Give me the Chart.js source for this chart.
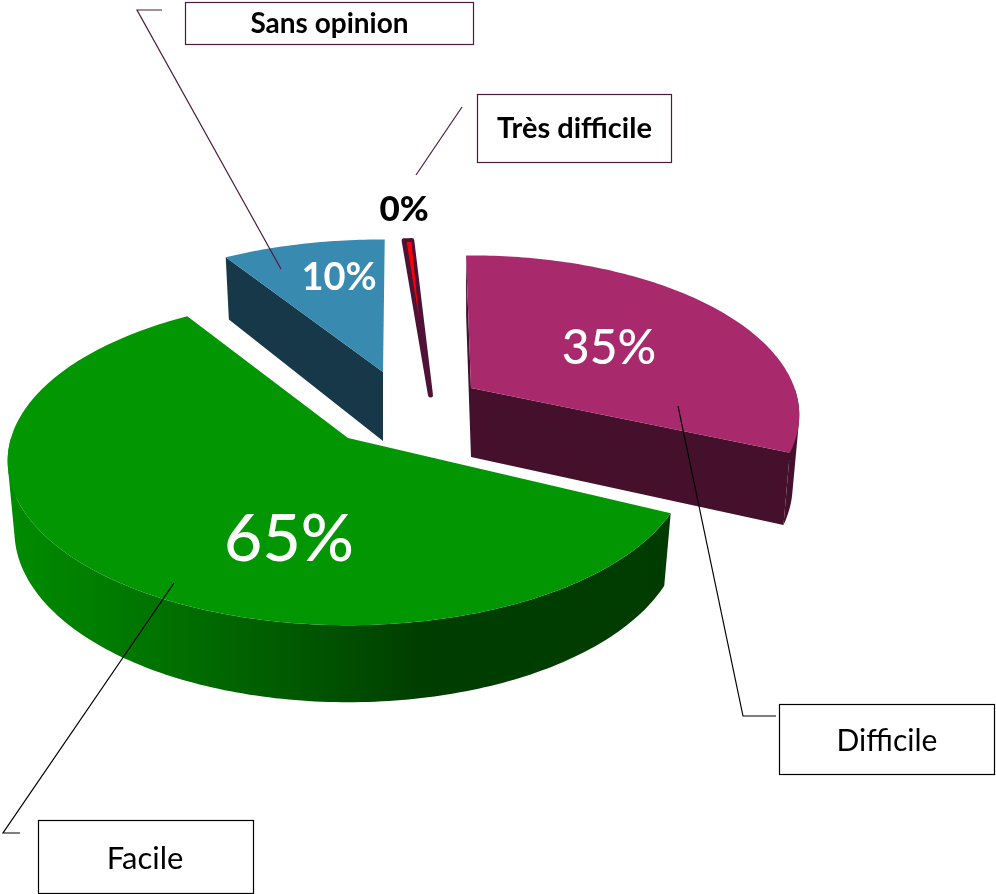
<!DOCTYPE html>
<html>
<head>
<meta charset="utf-8">
<script src="https://cdn.jsdelivr.net/npm/chart.js@4"></script>
<style>html,body{margin:0;padding:0;background:#fff}canvas{display:block}</style>
</head>
<body>
<canvas id="c" width="996" height="894"></canvas>
<script>
// ---- data ----
const categories = ['Facile', 'Sans opinion', 'Très difficile', 'Difficile'];
const values = [65, 10, 0.5, 35];
const percentLabels = ['65%', '10%', '0%', '35%'];

// ---- style / layout (not data) ----
const FONT = 'Lato';
const LEAD = '#4f1a3d';
const topColors = ['#029602', '#388ab0', '#ff0000', '#a82a6d'];
const wallColors = ['#004000', '#163848', '#4f1236', '#45102c'];
// perspective of the disc plane
const P = {A: 337, B: 155, k: 0.169, shrink: 0.98, depth: 69, depthY: 8};
const sliceStyle = [
  {ax: 348, ay: 438, tilt: 0, r: 1, sx: 1, k: 0.14, B: 161, faces: [false, false]},
  {ax: 383, ay: 372, tilt: 0, r: 1, sx: 1, faces: [true, false]},
  {ax: 419, ay: 318, tilt: -4.6, r: 0.535, sx: 1,
   wedge: {ax: 430.5, ay: 395, tilt: -5, r: 1.2, sx: 1, sweep: 0.8}},
  {ax: 471, ay: 388, tilt: -3, r: 1, sx: 0.96, faces: [true, true]}
];
const percentStyle = [
  {x: 289, y: 540, size: 66, weight: '500', color: '#fff'},
  {x: 339, y: 278, size: 38, weight: '700', color: '#fff'},
  {x: 404, y: 210, size: 35, weight: '900', color: '#000'},
  {x: 609, y: 349, size: 48, weight: '500', color: '#fff'}
];
const boxes = [
  {i: 1, x: 185.5, y: 2.5, w: 288, h: 42, dx: 0, dy: 0, color: LEAD, weight: '700', size: 28},
  {i: 2, x: 477.5, y: 94.5, w: 194, h: 68, dx: 0, dy: 0, color: LEAD, weight: '700', size: 29},
  {i: 3, x: 779.5, y: 704.5, w: 215, h: 70, dx: 0, dy: 2, color: '#000', weight: '400', size: 30},
  {i: 0, x: 38.5, y: 820.5, w: 215, h: 73, dx: -1, dy: 2, color: '#000', weight: '400', size: 31}
];
const leaders = [
  {color: LEAD, pts: [[162, 10], [137, 10], [281, 269]]},
  {color: LEAD, pts: [[462, 107], [416, 175]]},
  {color: '#000', pts: [[678, 406], [743, 716], [776, 716]]},
  {color: '#000', pts: [[174, 583], [3, 833], [20, 833]]}
];

function topPt(s, a, r) {
  const k = s.k === undefined ? P.k : s.k, B = s.B || P.B;
  const X = r * Math.cos(a), Y = r * Math.sin(a), w = 1 - k * Y;
  return [s.ax + s.sx * P.A * X / w, s.ay + B * Y / w];
}
function botPt(s, a, r) {
  const k = s.k === undefined ? P.k : s.k, B = s.B || P.B;
  const X = r * Math.cos(a), Y = r * Math.sin(a), w = 1 - k * Y;
  return [s.ax + s.sx * P.shrink * P.A * X / w, s.ay + B * Y / w + P.depth + P.depthY * Y];
}
function rim(fn, s, a0, a1) {
  const out = [], n = Math.max(2, Math.ceil((a1 - a0) * 180 / Math.PI));
  for (let i = 0; i <= n; i++) out.push(fn(s, a0 + (a1 - a0) * i / n, s.r));
  return out;
}
function trace(ctx, pts) {
  pts.forEach((p, i) => i ? ctx.lineTo(p[0], p[1]) : ctx.moveTo(p[0], p[1]));
  ctx.closePath();
}
function poly(ctx, pts, fill) {
  ctx.beginPath();
  trace(ctx, pts);
  ctx.fillStyle = fill;
  ctx.fill();
}
function area(q) {
  let s = 0;
  q.forEach((p, i) => { const n = q[(i + 1) % q.length]; s += p[0] * n[1] - n[0] * p[1]; });
  return s;
}

const pie3d = {
  id: 'pie3d',
  beforeDatasetsDraw(chart) {
    const ctx = chart.ctx;
    const arcs = chart.getDatasetMeta(0).data;
    ctx.save();
    ctx.lineJoin = 'round';
    // green wall shading runs left to right
    const g = ctx.createLinearGradient(6, 0, 670, 0);
    g.addColorStop(0, '#008c00');
    g.addColorStop(0.15, '#007c00');
    g.addColorStop(0.3, '#006a00');
    g.addColorStop(0.5, '#005000');
    g.addColorStop(0.62, '#003e00');
    g.addColorStop(1, '#003c00');
    [1, 2, 3, 0].forEach(i => {
      const st = sliceStyle[i], t = st.tilt * Math.PI / 180;
      const a0 = arcs[i].startAngle + t, a1 = arcs[i].endAngle + t;
      if (st.wedge) {
        const w = st.wedge, wt = w.tilt * Math.PI / 180;
        const mid = (arcs[i].startAngle + arcs[i].endAngle) / 2 + wt;
        const half = (arcs[i].endAngle - arcs[i].startAngle) / 2 * w.sweep;
        const pts = [[w.ax, w.ay]].concat(rim(topPt, w, mid - half, mid + half));
        poly(ctx, pts, wallColors[i]);
        ctx.strokeStyle = wallColors[i];
        ctx.lineWidth = 5;
        ctx.stroke();
        poly(ctx, [[st.ax, st.ay]].concat(rim(topPt, st, a0, a1)), topColors[i]);
        return;
      }
      const apexB = botPt(st, 0, 0), apexT = [st.ax, st.ay];
      const tr = rim(topPt, st, a0, a1), br = rim(botPt, st, a0, a1);
      const wall = i === 0 ? g : wallColors[i];
      // cut faces that can be seen
      if (st.faces[0]) poly(ctx, [apexT, tr[0], br[0], apexB], wallColors[i]);
      if (st.faces[1]) poly(ctx, [apexT, tr[tr.length - 1], br[br.length - 1], apexB], wallColors[i]);
      // front part of the curved wall, as one seamless path
      ctx.beginPath();
      const n = tr.length - 1;
      for (let k = 0; k < n; k++) {
        const a = a0 + (a1 - a0) * (k + 0.5) / n;
        if (Math.sin(a) < 0) continue;
        let q = [tr[k], tr[k + 1], br[k + 1], br[k]];
        if (area(q) < 0) q = q.reverse();
        trace(ctx, q);
      }
      ctx.fillStyle = wall;
      ctx.fill('nonzero');
      // top face
      poly(ctx, [apexT].concat(tr), arcs[i].options.backgroundColor);
    });
    ctx.restore();
    return false;
  },
  afterDraw(chart) {
    const ctx = chart.ctx;
    ctx.save();
    ctx.textAlign = 'center';
    ctx.textBaseline = 'middle';
    leaders.forEach(l => {
      ctx.beginPath();
      l.pts.forEach((p, i) => i ? ctx.lineTo(p[0], p[1]) : ctx.moveTo(p[0], p[1]));
      ctx.strokeStyle = l.color;
      ctx.lineWidth = 1.2;
      ctx.stroke();
    });
    boxes.forEach(b => {
      ctx.fillStyle = '#fff';
      ctx.fillRect(b.x, b.y, b.w, b.h);
      ctx.strokeStyle = b.color;
      ctx.lineWidth = 1.2;
      ctx.strokeRect(b.x, b.y, b.w, b.h);
      ctx.fillStyle = '#000';
      ctx.font = b.weight + ' ' + b.size + 'px ' + FONT;
      ctx.fillText(categories[b.i], b.x + b.w / 2 + b.dx, b.y + b.h / 2 + b.dy);
    });
    percentStyle.forEach((p, i) => {
      ctx.fillStyle = p.color;
      ctx.font = p.weight + ' ' + p.size + 'px ' + FONT;
      ctx.fillText(percentLabels[i], p.x, p.y);
    });
    ctx.restore();
  }
};

new Chart(document.getElementById('c'), {
  type: 'pie',
  data: {
    labels: categories,
    datasets: [{data: values, backgroundColor: topColors, borderWidth: 0}]
  },
  options: {
    responsive: false,
    animation: false,
    rotation: 116,
    events: [],
    layout: {padding: 0},
    plugins: {legend: {display: false}, tooltip: {enabled: false}, title: {display: false}}
  },
  plugins: [pie3d]
});
</script>
</body>
</html>
